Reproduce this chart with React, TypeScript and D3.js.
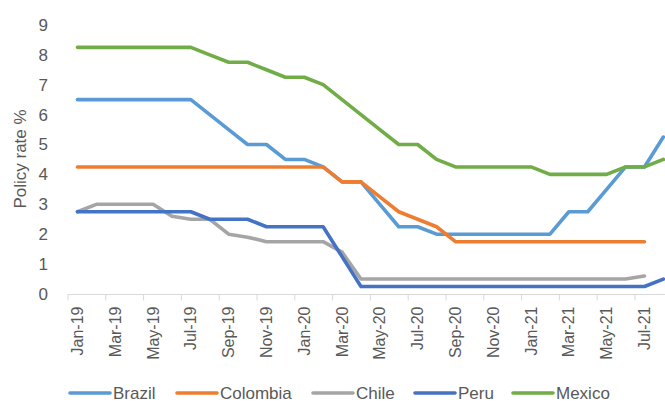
import React, { useEffect, useRef } from 'react';
import * as d3 from 'd3';

// months Jan-19 .. Aug-21
const months = [
  'Jan-19', 'Feb-19', 'Mar-19', 'Apr-19', 'May-19', 'Jun-19', 'Jul-19', 'Aug-19', 'Sep-19', 'Oct-19', 'Nov-19', 'Dec-19',
  'Jan-20', 'Feb-20', 'Mar-20', 'Apr-20', 'May-20', 'Jun-20', 'Jul-20', 'Aug-20', 'Sep-20', 'Oct-20', 'Nov-20', 'Dec-20',
  'Jan-21', 'Feb-21', 'Mar-21', 'Apr-21', 'May-21', 'Jun-21', 'Jul-21', 'Aug-21'
];

const brazil = [6.5, 6.5, 6.5, 6.5, 6.5, 6.5, 6.5, 6.0, 5.5, 5.0, 5.0, 4.5,
  4.5, 4.25, 3.75, 3.75, 3.0, 2.25, 2.25, 2.0, 2.0, 2.0, 2.0, 2.0,
  2.0, 2.0, 2.75, 2.75, 3.5, 4.25, 4.25, 5.25];
const colombia = [4.25, 4.25, 4.25, 4.25, 4.25, 4.25, 4.25, 4.25, 4.25, 4.25, 4.25, 4.25,
  4.25, 4.25, 3.75, 3.75, 3.25, 2.75, 2.5, 2.25, 1.75, 1.75, 1.75, 1.75,
  1.75, 1.75, 1.75, 1.75, 1.75, 1.75, 1.75, null];
const chile = [2.75, 3.0, 3.0, 3.0, 3.0, 2.6, 2.5, 2.5, 2.0, 1.9, 1.75, 1.75,
  1.75, 1.75, 1.4, 0.5, 0.5, 0.5, 0.5, 0.5, 0.5, 0.5, 0.5, 0.5,
  0.5, 0.5, 0.5, 0.5, 0.5, 0.5, 0.6, null];
const peru = [2.75, 2.75, 2.75, 2.75, 2.75, 2.75, 2.75, 2.5, 2.5, 2.5, 2.25, 2.25,
  2.25, 2.25, 1.25, 0.25, 0.25, 0.25, 0.25, 0.25, 0.25, 0.25, 0.25, 0.25,
  0.25, 0.25, 0.25, 0.25, 0.25, 0.25, 0.25, 0.5];
const mexico = [8.25, 8.25, 8.25, 8.25, 8.25, 8.25, 8.25, 8.0, 7.75, 7.75, 7.5, 7.25,
  7.25, 7.0, 6.5, 6.0, 5.5, 5.0, 5.0, 4.5, 4.25, 4.25, 4.25, 4.25,
  4.25, 4.0, 4.0, 4.0, 4.0, 4.25, 4.25, 4.5];

const series = [
  { name: 'Brazil', values: brazil, color: '#5B9BD5' },
  { name: 'Colombia', values: colombia, color: '#ED7D31' },
  { name: 'Chile', values: chile, color: '#A5A5A5' },
  { name: 'Peru', values: peru, color: '#4472C4' },
  { name: 'Mexico', values: mexico, color: '#70AD47' }
];

const yTicks = [0, 1, 2, 3, 4, 5, 6, 7, 8, 9];

const width = 665;
const height = 403;
const font = '"Liberation Sans", Arial, sans-serif';
const textColor = '#595959';

export default function App() {
  const ref = useRef<SVGSVGElement>(null);

  useEffect(() => {
    const svg = d3.select(ref.current);
    svg.selectAll('*').remove();

    //  plot area runs past the right edge of the picture
    const x = d3.scaleBand<string>().domain(months).range([68, 68 + 18.9 * months.length]);
    const y = d3.scaleLinear().domain([0, 9]).range([294, 24.9]);
    const cx = (i: number) => (x(months[i]) as number) + x.bandwidth() / 2;

    //  y labels
    svg.append('g').selectAll('text')
      .data(yTicks).enter()
      .append('text')
      .attr('x', 48)
      .attr('y', d => y(d))
      .attr('dy', '0.35em')
      .attr('text-anchor', 'end')
      .attr('font-size', 17)
      .attr('font-family', font)
      .attr('fill', textColor)
      .text(d => d);

    svg.append('text')
      .attr('transform', 'translate(20,159) rotate(-90)')
      .attr('dy', '0.35em')
      .attr('text-anchor', 'middle')
      .attr('font-size', 17)
      .attr('font-family', font)
      .attr('fill', textColor)
      .text('Policy rate %');

    //  x axis line + ticks every two months
    const axisY = y(0) + 0.5;
    svg.append('line')
      .attr('x1', x(months[0]) as number).attr('x2', width)
      .attr('y1', axisY).attr('y2', axisY)
      .attr('stroke', '#D9D9D9').attr('stroke-width', 1);

    const tickMonths = months.filter((d, i) => i % 2 === 0);
    svg.append('g').selectAll('line')
      .data(tickMonths).enter()
      .append('line')
      .attr('x1', d => x(d) as number).attr('x2', d => x(d) as number)
      .attr('y1', axisY).attr('y2', axisY + 6)
      .attr('stroke', '#D9D9D9').attr('stroke-width', 1);

    svg.append('g').selectAll('text')
      .data(tickMonths).enter()
      .append('text')
      .attr('transform', d => 'translate(' + ((x(d) as number) + x.bandwidth() / 2) + ',' + (axisY + 12) + ') rotate(-90)')
      .attr('dy', '0.35em')
      .attr('text-anchor', 'end')
      .attr('font-size', 16)
      .attr('font-family', font)
      .attr('fill', textColor)
      .text(d => d);

    //  the lines, later series on top
    const line = d3.line<number | null>()
      .defined(d => d !== null)
      .x((d, i) => cx(i))
      .y(d => y(d as number));

    series.forEach(s => {
      svg.append('path')
        .attr('d', line(s.values))
        .attr('fill', 'none')
        .attr('stroke', s.color)
        .attr('stroke-width', 3.6)
        .attr('stroke-linejoin', 'round')
        .attr('stroke-linecap', 'round');
    });

    //  legend (nudged up a little so the text is not clipped)
    const legendX = [68, 175, 311, 413, 511];
    const legend = svg.append('g').selectAll('g')
      .data(series).enter()
      .append('g')
      .attr('transform', (d, i) => 'translate(' + legendX[i] + ',393)');
    legend.append('line')
      .attr('x1', 2).attr('x2', 42)
      .attr('y1', 0).attr('y2', 0)
      .attr('stroke', d => d.color)
      .attr('stroke-width', 3.6)
      .attr('stroke-linecap', 'round');
    legend.append('text')
      .attr('x', 45)
      .attr('y', 5.5)
      .attr('font-size', 17)
      .attr('font-family', font)
      .attr('fill', textColor)
      .text(d => d.name);
  }, []);

  return (
    <svg ref={ref} width={width} height={height}
      style={{ position: 'absolute', left: 0, top: 0, background: '#fff' }} />
  );
}
